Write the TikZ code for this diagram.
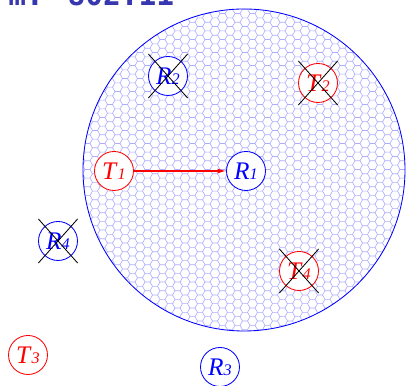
\documentclass[tikz,border=0pt]{standalone}
\usepackage{fontspec}
\setmainfont{Liberation Serif}
\newfontfamily\titlefont{DejaVu Sans Mono}
\usepackage{xcolor}
\usetikzlibrary{calc,arrows.meta}
\definecolor{titleblue}{RGB}{55, 55, 175}

\newcommand{\lbl}[2]{\textit{#1}{\fontsize{11.5}{12}\selectfont\textit{#2}}}

\begin{document}
\begin{tikzpicture}[
    station/.style={circle, draw, fill=white, line width=0.6pt, minimum size=0.975cm, inner sep=0pt, font=\fontsize{18}{21}\selectfont},
    tx/.style={station, draw=red, text=red},
    rx/.style={station, draw=blue, text=blue},
    crossline/.style={black, line width=0.6pt},
    hexline/.style={blue!32, line width=0.45pt}
  ]
    \useasboundingbox (0,0) rectangle (10.15,9.65);
    \fill[white] (0,0) rectangle (10.15,9.65);

    % Title (cut by the top edge)
    \node[anchor=base west, inner sep=0pt, text=titleblue, font=\titlefont\bfseries\fontsize{21}{24}\selectfont] (title) at (0.2,9.5) {m. 802.11};

    % Coverage area of T1
    \coordinate (O) at (6.1,5.4);
    \begin{scope}
        \clip (O) circle (4.025);
        \draw[hexline] \foreach \i [evaluate=\i as \x using {2.0+\i*0.1875}, evaluate=\i as \yo using {1.3+mod(\i,2)*0.1083}] in {0,...,44} {
            \foreach \j [evaluate=\j as \y using {\yo+\j*0.2165}] in {0,...,38} {
                (\x-0.0625,\y+0.1083) -- (\x+0.0625,\y+0.1083) -- (\x+0.125,\y) -- (\x+0.0625,\y-0.1083)
            }
        };
    \end{scope}
    \draw[blue, line width=0.6pt] (O) circle (4.025);

    % Stations
    \node[tx] (T1) at (2.85,5.375) {\lbl{T}{1}};
    \node[rx] (R1) at (6.15,5.375) {\lbl{R}{1}};
    \node[rx] (R2) at (4.2,7.75) {\lbl{R}{2}};
    \node[tx] (T2) at (7.95,7.575) {\lbl{T}{2}};
    \node[tx] (T4) at (7.475,2.875) {\lbl{T}{4}};
    \node[rx] (R4) at (1.45,3.625) {\lbl{R}{4}};
    \node[tx] (T3) at (0.7,0.775) {\lbl{T}{3}};
    \node[rx] (R3) at (5.5,0.475) {\lbl{R}{3}};

    % Transmission
    \draw[red, line width=0.8pt, -{Latex[length=6pt,width=3.5pt]}] (T1) -- (R1);

    % Blocked stations
    \foreach \n in {R2,T2,T4,R4} {
        \draw[crossline] ($(\n)+(-0.49,0.55)$) -- ($(\n)+(0.49,-0.55)$);
        \draw[crossline] ($(\n)+(-0.49,-0.55)$) -- ($(\n)+(0.49,0.55)$);
    }
\end{tikzpicture}
\end{document}
